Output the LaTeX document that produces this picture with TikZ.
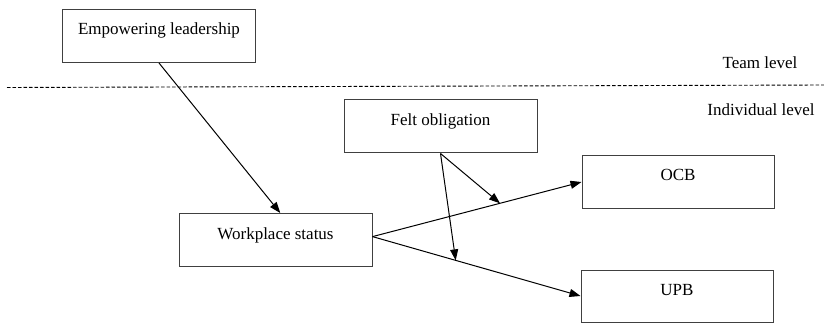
\documentclass[tikz,border=0pt]{standalone}
\usepackage{fontspec}
\setmainfont{Liberation Serif}
\usetikzlibrary{arrows.meta}

\begin{document}
\begin{tikzpicture}[x=1pt,y=-1pt,
    box/.style={draw=black!75,line width=1pt,minimum width=193pt,minimum height=53pt,
        text height=12pt,text depth=14pt,font=\fontsize{17}{20}\selectfont},
    lvl/.style={font=\fontsize{17}{20}\selectfont},
    link/.style={line width=1pt,-{Triangle[length=11pt,width=8pt]}}]
    \useasboundingbox (0,0) rectangle (824,323);
    % boxes
    \node[box] (lead) at (159,36) {Empowering leadership};
    \node[box] (felt) at (440.5,126.5) {Felt obligation};
    \node[box] (status) at (275.5,240) {Workplace status};
    \node[box,minimum width=192pt,minimum height=52pt] (ocb) at (678,182) {OCB};
    \node[box,minimum width=192pt,minimum height=52pt] (upb) at (677,296) {UPB};
    % levels
    \node[lvl] (team) at (760,63) {Team level};
    \node[lvl] (indiv) at (761,110) {Individual level};
    \coordinate (dl) at (7,87.5);
    \coordinate (dr) at (824,85);
    \draw[line width=0.9pt,dash pattern=on 3.5pt off 2pt] (dl) -- (dr);
    % paths
    \draw[link] (lead.south) -- (status.80);
    \draw[link] (status.2) -- (ocb.west) coordinate[pos=0.61] (m1);
    \draw[link] (status.2) -- (upb.west) coordinate[pos=0.4] (m2);
    \draw[link] (felt.south) -- (m1);
    \draw[link] (felt.south) -- (m2);
\end{tikzpicture}
\end{document}
